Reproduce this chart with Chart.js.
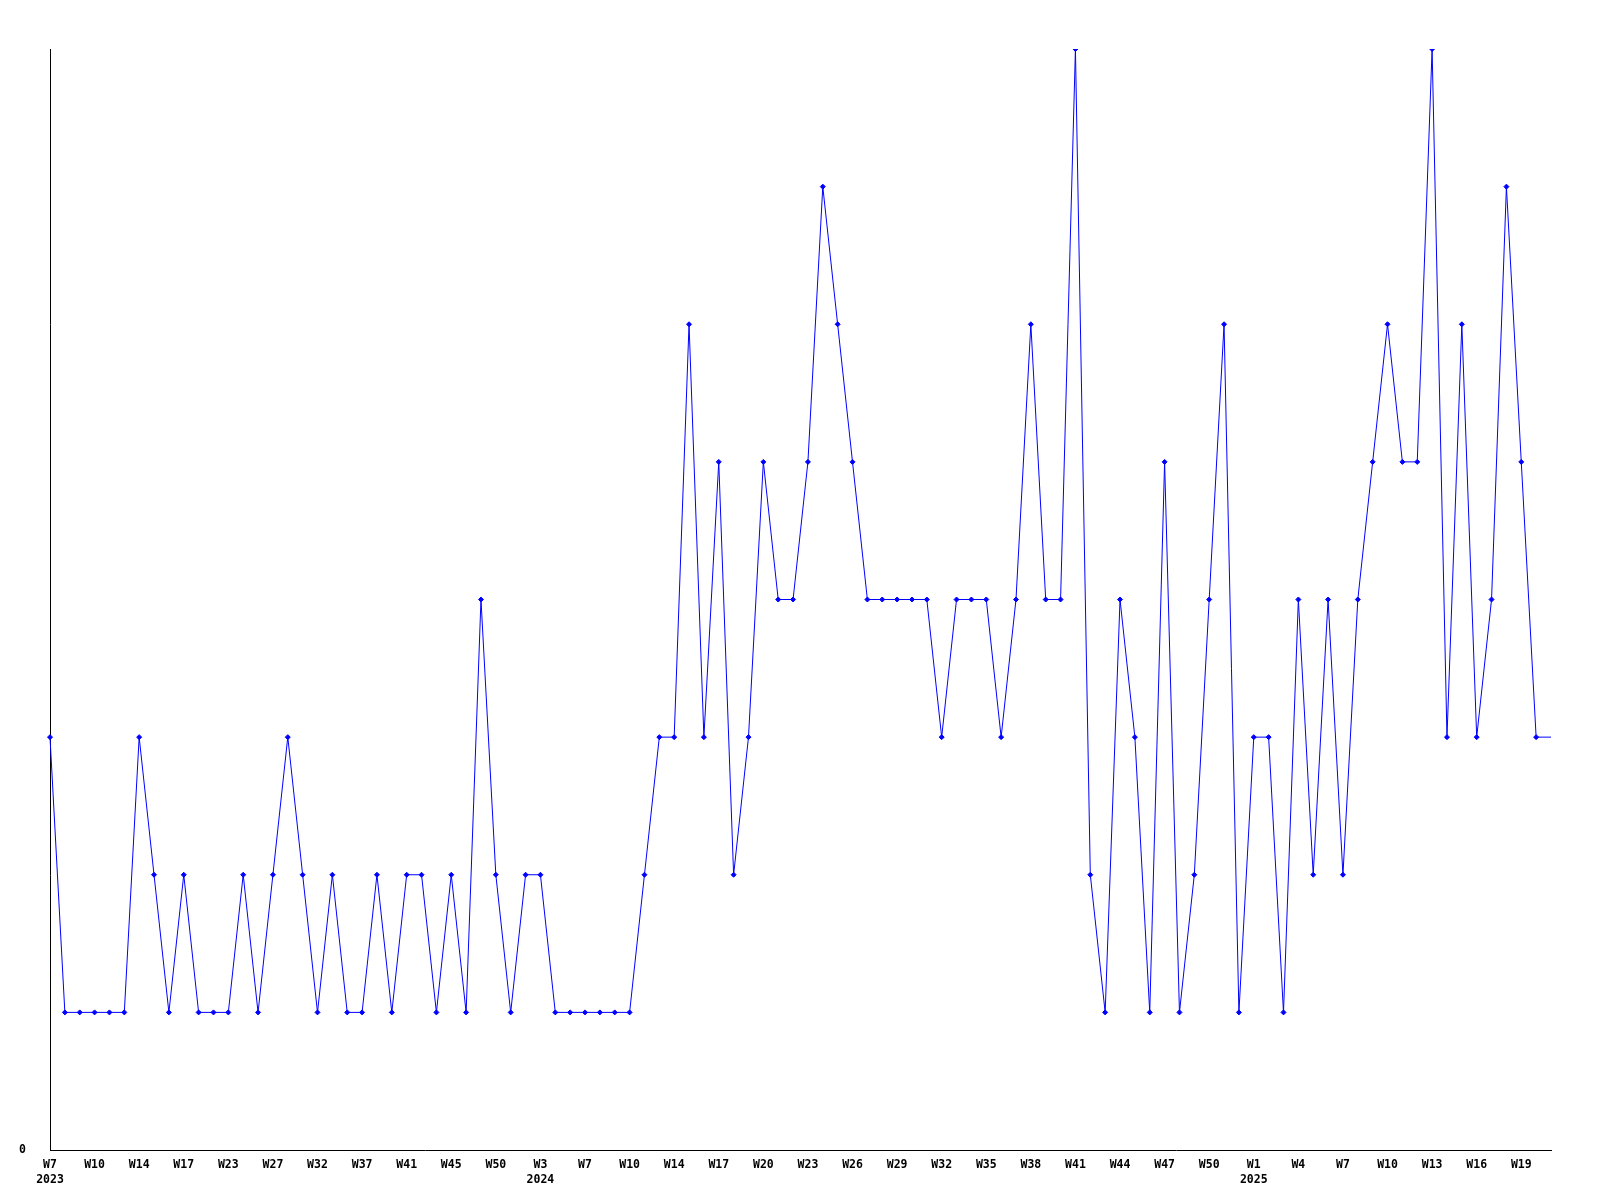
<!DOCTYPE html>
<html>
<head>
<meta charset="utf-8">
<script src="https://cdn.jsdelivr.net/npm/chart.js@4.4.0/dist/chart.umd.min.js"></script>
<style>
  body { margin: 0; background: #fff; }
  #wrap { width: 1600px; height: 1200px; }
</style>
</head>
<body>
<div id="wrap"><canvas id="weeklyChart" width="1600" height="1200"></canvas></div>
<script>
// week labels (only every 3rd one is shown on the axis)
const weeks = [
  'W7', 'W8', 'W9', 'W10', 'W12', 'W13', 'W14', 'W15', 'W16', 'W17', 'W19', 'W21',
  'W23', 'W24', 'W25', 'W27', 'W29', 'W30', 'W32', 'W34', 'W35', 'W37', 'W38', 'W39',
  'W41', 'W42', 'W43', 'W45', 'W47', 'W48', 'W50', 'W51', 'W1',
  'W3', 'W4', 'W5', 'W7', 'W8', 'W9', 'W10', 'W11', 'W12', 'W14', 'W15', 'W16',
  'W17', 'W18', 'W19', 'W20', 'W21', 'W22', 'W23', 'W24', 'W25', 'W26', 'W27', 'W28',
  'W29', 'W30', 'W31', 'W32', 'W33', 'W34', 'W35', 'W36', 'W37', 'W38', 'W39', 'W40',
  'W41', 'W42', 'W43', 'W44', 'W45', 'W46', 'W47', 'W48', 'W49', 'W50', 'W51', 'W52',
  'W1', 'W2', 'W3', 'W4', 'W5', 'W6', 'W7', 'W8', 'W9', 'W10', 'W11', 'W12',
  'W13', 'W14', 'W15', 'W16', 'W17', 'W18', 'W19', 'W20', 'W21'
];

// where a new year starts (index into weeks)
const yearIndex = [0, 33, 81];
const yearNames = ['2023', '2024', '2025'];

const counts = [
  3, 1, 1, 1, 1, 1, 3, 2, 1, 2, 1, 1, 1, 2, 1, 2, 3, 2, 1, 2,
  1, 1, 2, 1, 2, 2, 1, 2, 1, 4, 2, 1, 2, 2, 1, 1, 1, 1, 1, 1,
  2, 3, 3, 6, 3, 5, 2, 3, 5, 4, 4, 5, 7, 6, 5, 4, 4, 4, 4, 4,
  3, 4, 4, 4, 3, 4, 6, 4, 4, 8, 2, 1, 4, 3, 1, 5, 1, 2, 4, 6,
  1, 3, 3, 1, 4, 2, 4, 2, 4, 5, 6, 5, 5, 8, 3, 6, 3, 4, 7, 5,
  3, 3
];

const yMax = 8;

const labels = weeks.map((w, i) => {
  const y = yearIndex.indexOf(i);
  return y >= 0 ? [w, yearNames[y]] : w;
});

const tickFont = { family: '"DejaVu Sans Mono", monospace', size: 11.5, weight: 'bold', lineHeight: 1.25 };

const ctx = document.getElementById('weeklyChart').getContext('2d');
new Chart(ctx, {
  type: 'line',
  data: {
    labels: labels,
    datasets: [{
      data: counts,
      borderColor: '#0000ff',
      backgroundColor: '#0000ff',
      borderWidth: 1,
      tension: 0,
      pointStyle: 'rectRot',
      // the last point sits on the right edge without a marker
      pointRadius: counts.map((v, i) => i === counts.length - 1 ? 0 : 2.5),
      pointBorderWidth: 1,
      pointHoverRadius: 0
    }]
  },
  options: {
    responsive: false,
    animation: false,
    layout: { padding: { left: 0, top: 49, right: 49, bottom: 0 } },
    plugins: {
      legend: { display: false },
      tooltip: { enabled: false }
    },
    scales: {
      x: {
        grid: { display: false },
        border: { display: true, color: '#000', width: 1 },
        ticks: {
          autoSkip: false,
          maxRotation: 0,
          padding: 0,
          color: '#000',
          font: tickFont,
          callback: function (val, i) {
            return i % 3 === 0 ? this.getLabelForValue(val) : '';
          }
        },
        afterFit: (axis) => { axis.height = 50; }
      },
      y: {
        min: 0,
        max: yMax,
        grid: { display: false },
        border: { display: true, color: '#000', width: 1 },
        ticks: {
          stepSize: 1,
          padding: 16,
          color: '#000',
          font: tickFont,
          callback: (v) => v === 0 ? '0' : ''
        },
        afterFit: (axis) => { axis.width = 50; }
      }
    }
  }
});
</script>
</body>
</html>
